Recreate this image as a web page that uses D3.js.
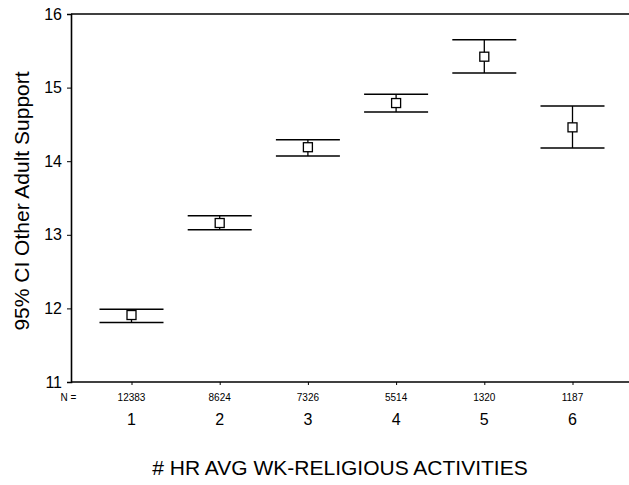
<!DOCTYPE html>
<html><head><meta charset="utf-8">
<script src="https://cdn.jsdelivr.net/npm/d3@7"></script>
<style>body{margin:0;background:#fff}svg{display:block}text{font-family:Arial,"Liberation Sans",sans-serif;fill:#000}</style>
</head><body><svg id="c" width="629" height="485"></svg>
<script>
const categories = ["1","2","3","4","5","6"];
const counts = [12383, 8624, 7326, 5514, 1320, 1187];
const means = [11.91, 13.16, 14.19, 14.79, 15.42, 14.46];
const lower = [11.81, 13.07, 14.07, 14.67, 15.20, 14.18];
const upper = [11.99, 13.26, 14.29, 14.91, 15.65, 14.75];
const yTicks = [11, 12, 13, 14, 15, 16];

const svg = d3.select("#c");
const mLeft = 71, mTop = 14, mBottom = 382;
const x = d3.scalePoint().domain(categories).range([131.5, 572.5]);
const y = d3.scaleLinear().domain([11, 16]).range([mBottom, mTop]);

svg.append("line").attr("x1", mLeft).attr("x2", 629).attr("y1", mTop).attr("y2", mTop).attr("stroke","#000").attr("stroke-width",1.6);

const ya = svg.append("g").attr("transform",`translate(${mLeft},0)`)
  .call(d3.axisLeft(y).tickValues(yTicks).tickSize(4).tickPadding(5).tickFormat(d3.format("d")));
ya.select(".domain").attr("stroke-width",1.6);
ya.selectAll("text").style("font-size","16px").attr("font-family",null);

const xa = svg.append("g").attr("transform",`translate(0,${mBottom})`)
  .call(d3.axisBottom(x).tickSize(3).tickFormat(""));
xa.select(".domain").remove();
svg.append("line").attr("x1", mLeft).attr("x2", 629).attr("y1", mBottom).attr("y2", mBottom).attr("stroke","#000").attr("stroke-width",1.6);

svg.append("text").attr("x",68.5).attr("y",400.5).attr("text-anchor","middle").style("font-size","10px").text("N =");
svg.selectAll(".n").data(categories).join("text").attr("class","n")
  .attr("x", d=>x(d)).attr("y",400.5).attr("text-anchor","middle").style("font-size","10px")
  .text((d,i)=>counts[i]);
svg.selectAll(".cl").data(categories).join("text").attr("class","cl")
  .attr("x", d=>x(d)).attr("y",425).attr("text-anchor","middle").style("font-size","16px")
  .text(d=>d);

const g = svg.append("g");
categories.forEach((c,i)=>{
  const cx = x(c);
  g.append("line").attr("x1",cx).attr("x2",cx).attr("y1",y(upper[i])).attr("y2",y(lower[i])).attr("stroke","#000").attr("stroke-width",1.3);
  [upper[i], lower[i]].forEach(v=>{
    g.append("line").attr("x1",cx-32).attr("x2",cx+32).attr("y1",y(v)).attr("y2",y(v)).attr("stroke","#000").attr("stroke-width",1.5);
  });
  g.append("rect").attr("x",cx-4.5).attr("y",y(means[i])-4.5).attr("width",9).attr("height",9)
    .attr("fill","#fff").attr("stroke","#000").attr("stroke-width",1.3);
});

svg.append("text").attr("x",340).attr("y",475).attr("text-anchor","middle").style("font-size","21px")
  .text("# HR AVG WK-RELIGIOUS ACTIVITIES");
svg.append("text").attr("transform","translate(29,201) rotate(-90)").attr("text-anchor","middle").style("font-size","21px")
  .text("95% CI Other Adult Support");
</script></body></html>
